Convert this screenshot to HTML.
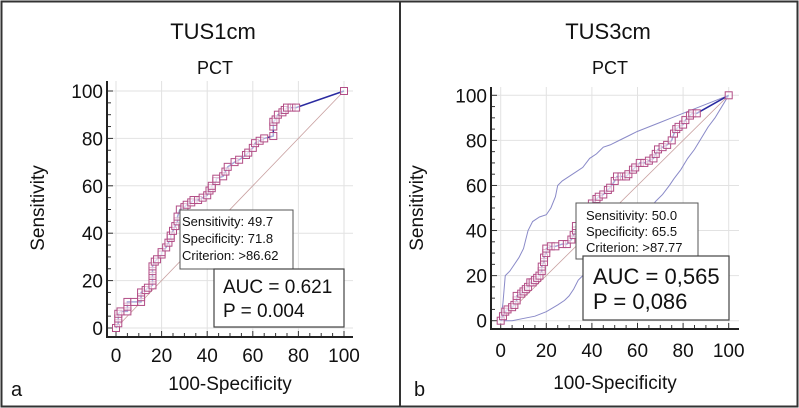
<!DOCTYPE html>
<html><head><meta charset="utf-8">
<style>
html,body{margin:0;padding:0;background:#fff;}
svg{display:block;font-family:"Liberation Sans",Arial,sans-serif;}
</style></head>
<body>
<svg id="c" width="799" height="408" viewBox="0 0 799 408">
<rect x="1.5" y="1.5" width="796" height="405" fill="#fff" stroke="#333" stroke-width="2"/>
<line x1="400" y1="1" x2="400" y2="407" stroke="#333" stroke-width="2"/>
</svg>
<script>
const rocA_x=[0,1,1,1,2,5,5,5,8,11,11,11,13,14,16,16,16,16,16,17,18,20,20,22,23,24,24,25,26,27,27,28,30,31,33,34,36,38,40,41,42,42,44,44,47,48,49,52,54,57,58,60,61,63,65,69,69,69,70,71,73,74,75,77,79,100];
const rocA_y=[0,2,4,6,7,7,9,11,11,11,13,15,16,17,18,20,22,24,26,28,29,31,32,34,36,38,39,41,43,45,47,50,51,52,53,54,54,55,56,58,59,60,62,63,64,66,68,70,71,73,74,76,78,79,80,81,85,87,88,90,91,92,93,93,93,100];
const rocB_x=[0,1,2,3,5,6,7,7,9,10,11,12,13,14,15,16,17,18,18,19,19,20,20,22,24,27,29,31,32,33,33,35,37,38,39,40,42,43,45,47,48,50,51,53,55,56,58,59,61,63,65,67,68,69,71,73,75,76,77,78,80,81,83,84,86,100];
const rocB_y=[0,2,4,5,6,7,9,11,12,13,14,15,17,17,18,19,20,22,24,26,28,30,32,33,33,34,34,36,38,40,42,44,46,48,50,52,54,55,56,58,59,62,64,64,64,65,67,68,70,70,71,72,74,76,77,78,80,83,85,86,87,89,91,92,92,100];
const ciUp_x=[0,1,2,4,6,8,10,11,12,14,17,20,22,24,25,27,30,33,36,39,42,45,48,52,56,60,65,70,75,80,85,90,95,100];
const ciUp_y=[0,8,20,22,25,28,32,36,40,44,46,47,50,55,60,62,64,66,68,72,74,77,78,80,82,84,86,88,90,92,94,96,98,100];
const ciLo_x=[0,5,10,15,20,25,28,30,32,34,36,38,42,46,50,53,56,60,64,68,71,74,76,79,82,85,88,91,94,97,100];
const ciLo_y=[0,0,1,2,4,7,9,11,14,18,20,22,23,26,30,33,36,41,48,53,56,60,63,67,72,76,81,86,90,95,100];
const ticks=[0,20,40,60,80,100];

const svg=document.getElementById('c');
const NS='http://www.w3.org/2000/svg';
function mk(tag,attrs,parent){const e=document.createElementNS(NS,tag);for(const k in attrs)e.setAttribute(k,attrs[k]);(parent||svg).appendChild(e);return e;}
function txt(s,x,y,size,anchor,parent){const t=mk('text',{x:x,y:y,'font-size':size,'text-anchor':anchor||'middle',fill:'#111'},parent);t.textContent=s;return t;}

function panel(P){
  const g=mk('g',{});
  
  
  const sx=v=>P.x0+(P.x1-P.x0)*v/100, sy=v=>P.y0+(P.y1-P.y0)*v/100;
  ticks.forEach(t=>{
    const gl=mk('line',{x1:sx(t),x2:sx(t),y1:P.top,y2:P.axY,stroke:'#e2e2e2','stroke-width':1},g);
    
    const gh=mk('line',{x1:P.axX,x2:P.right,y1:sy(t),y2:sy(t),stroke:'#e2e2e2','stroke-width':1},g);
    
  });
  for(let v=0;v<=100;v+=5){
    const L=(v%20===0)?6:4;
    mk('line',{x1:sx(v),x2:sx(v),y1:P.axY,y2:P.axY-L,stroke:'#333','stroke-width':1},g);
    mk('line',{x1:P.axX,x2:P.axX+L,y1:sy(v),y2:sy(v),stroke:'#333','stroke-width':1},g);
  }
  const ax=mk('path',{d:`M${P.axX},${P.top} V${P.axY} H${P.right}`,fill:'none',stroke:'#222','stroke-width':2},g);
  
  const d=mk('line',{x1:sx(0),y1:sy(0),x2:sx(100),y2:sy(100),stroke:'#c9a0a0','stroke-width':0.8},g);
  
  if(P.ci){
    [[ciUp_x,ciUp_y,'ci-upper'],[ciLo_x,ciLo_y,'ci-lower']].forEach(([X,Y,n])=>{
      const p=mk('polyline',{points:X.map((v,i)=>sx(v)+','+sy(Y[i])).join(' '),fill:'none',stroke:'#8a8ac8','stroke-width':1},g);
      
    });
  }
  const rl=mk('polyline',{points:P.rx.map((v,i)=>sx(v)+','+sy(P.ry[i])).join(' '),fill:'none',stroke:'#2a2aa0','stroke-width':1.5},g);
  
  P.rx.forEach((v,i)=>{
    const m=mk('rect',{x:sx(v)-3.5,y:sy(P.ry[i])-3.5,width:7,height:7,fill:'#fff','fill-opacity':0.6,stroke:'#b24d86','stroke-width':1},g);
    
    
  });
  ticks.forEach(t=>{
    const a=txt(String(t),sx(t),P.xlabY,19,'middle',g);
    const b=txt(String(t),P.ylabX,sy(t)+7,19,'end',g);
  });
  const t1=txt(P.title,P.cx,P.titleY,22,'middle',g);
  const t2=txt('PCT',P.cx+2,P.subY,18,'middle',g);
  const xt=txt('100-Specificity',P.xtX,P.xtY,19,'middle',g);
  const yt=txt('Sensitivity',0,0,19,'middle',g);yt.setAttribute('transform',`translate(${P.ytX},${P.ytY}) rotate(-90)`);
  
  const lb=txt(P.letter,P.letX,P.letY,20,'start',g);
  const cb=mk('g',{},g);
  mk('rect',{x:P.cb[0],y:P.cb[1],width:P.cb[2],height:P.cb[3],fill:'#fff',stroke:'#555','stroke-width':1},cb);
  P.cbText.forEach((s,i)=>txt(s,P.cb[0]+P.cbPad,P.cb[1]+P.cbY0+i*P.cbDy,P.cbFs,'start',cb));
  const ab=mk('g',{},g);
  mk('rect',{x:P.ab[0],y:P.ab[1],width:P.ab[2],height:P.ab[3],fill:'#fff',stroke:'#444','stroke-width':1.2},ab);
  P.abText.forEach((s,i)=>txt(s,P.ab[0]+P.abPad,P.ab[1]+P.abY0+i*P.abDy,P.abFs,'start',ab));
}
panel({name:'panel-a',x0:116,x1:344,y0:328,y1:91,axX:107,axY:337,top:81,right:353,rx:rocA_x,ry:rocA_y,ci:false,
 xlabY:362,ylabX:103,title:'TUS1cm',cx:213,titleY:39,subY:74,xtX:230,xtY:390,ytX:44,ytY:208,letter:'a',letX:11,letY:396,
 cb:[180,210,113,59],cbPad:2,cbY0:16,cbDy:17,cbFs:13,cbText:['Sensitivity: 49.7','Specificity: 71.8','Criterion: >86.62'],
 ab:[214,269,130,58],abPad:9,abY0:24,abDy:24,abFs:19,abText:['AUC = 0.621','P = 0.004']});
panel({name:'panel-b',x0:500.7,x1:728.7,y0:320.7,y1:95.3,axX:491,axY:329,top:87,right:739,rx:rocB_x,ry:rocB_y,ci:true,
 xlabY:357,ylabX:487,title:'TUS3cm',cx:608,titleY:39,subY:74,xtX:615,xtY:389,ytX:423,ytY:208,letter:'b',letX:414,letY:396,
 cb:[576,203,122,56],cbPad:10,cbY0:17,cbDy:16,cbFs:13,cbText:['Sensitivity: 50.0','Specificity: 65.5','Criterion: >87.77'],
 ab:[583,256,146,64],abPad:10,abY0:28,abDy:25,abFs:22,abText:['AUC = 0,565','P = 0,086']});
</script>
</body></html>
